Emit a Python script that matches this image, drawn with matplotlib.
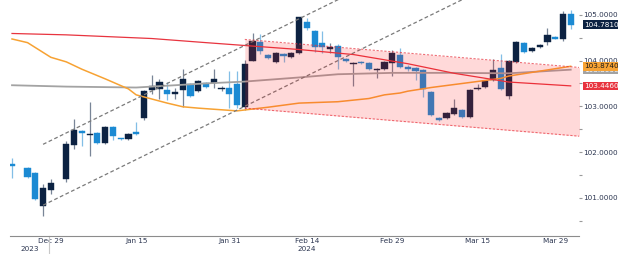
import numpy as np
import matplotlib.pyplot as plt
import matplotlib.transforms as mtransforms

# Candles (daily)
dates = ['2023-12-22', '2023-12-26', '2023-12-27', '2023-12-28', '2023-12-29',
         '2024-01-02', '2024-01-03', '2024-01-04', '2024-01-05', '2024-01-08',
         '2024-01-09', '2024-01-10', '2024-01-11', '2024-01-12', '2024-01-15',
         '2024-01-16', '2024-01-17', '2024-01-18', '2024-01-19', '2024-01-22',
         '2024-01-23', '2024-01-24', '2024-01-25', '2024-01-26', '2024-01-29',
         '2024-01-30', '2024-01-31', '2024-02-01', '2024-02-02', '2024-02-05',
         '2024-02-06', '2024-02-07', '2024-02-08', '2024-02-09', '2024-02-12',
         '2024-02-13', '2024-02-14', '2024-02-15', '2024-02-16', '2024-02-19',
         '2024-02-20', '2024-02-21', '2024-02-22', '2024-02-23', '2024-02-26',
         '2024-02-27', '2024-02-28', '2024-02-29', '2024-03-01', '2024-03-04',
         '2024-03-05', '2024-03-06', '2024-03-07', '2024-03-08', '2024-03-11',
         '2024-03-12', '2024-03-13', '2024-03-14', '2024-03-15', '2024-03-18',
         '2024-03-19', '2024-03-20', '2024-03-21', '2024-03-22', '2024-03-25',
         '2024-03-26', '2024-03-27', '2024-03-28', '2024-03-29', '2024-04-01',
         '2024-04-02']
opens = [101.73, 101.66, 101.54, 100.83, 101.17,
         101.41, 102.15, 102.46, 102.38, 102.41,
         102.19, 102.54, 102.30, 102.29, 102.43,
         102.74, 103.36, 103.37, 103.36, 103.27,
         103.35, 103.48, 103.34, 103.50, 103.50,
         103.37, 103.41, 103.49, 102.99, 104.00,
         104.41, 104.12, 103.97, 104.15, 104.07,
         104.17, 104.83, 104.65, 104.38, 104.26,
         104.32, 104.03, 103.93, 103.96, 103.94,
         103.80, 103.81, 103.94, 104.11, 103.86,
         103.83, 103.79, 103.31, 102.74, 102.74,
         102.83, 102.92, 102.76, 103.38, 103.43,
         103.57, 103.83, 103.22, 103.96, 104.39,
         104.21, 104.29, 104.41, 104.52, 104.46,
         105.01]
highs = [101.88, 101.68, 101.56, 101.30, 101.41,
         102.24, 102.72, 102.48, 103.10, 102.43,
         102.57, 102.56, 102.31, 102.42, 102.66,
         103.36, 103.68, 103.60, 103.53, 103.40,
         103.81, 103.50, 103.58, 103.52, 103.81,
         103.45, 103.76, 103.78, 104.01, 104.59,
         104.57, 104.14, 104.18, 104.17, 104.19,
         104.96, 104.92, 104.67, 104.65, 104.38,
         104.35, 104.05, 103.97, 103.98, 103.96,
         103.84, 103.99, 104.22, 104.28, 103.90,
         103.85, 103.81, 103.33, 102.76, 102.87,
         103.16, 102.94, 103.38, 103.49, 103.58,
         104.03, 104.14, 104.01, 104.43, 104.41,
         104.30, 104.36, 104.70, 104.54, 105.07,
         105.10]
lows = [101.44, 101.43, 100.96, 100.61, 101.08,
        101.34, 102.07, 102.14, 101.92, 102.17,
        102.17, 102.26, 102.26, 102.27, 102.37,
        102.70, 103.27, 103.17, 103.14, 103.17,
        102.99, 103.21, 103.32, 103.40, 103.41,
        103.33, 102.96, 102.96, 102.92, 103.98,
        104.14, 104.04, 103.95, 103.96, 104.05,
        104.15, 104.67, 104.19, 104.17, 104.16,
        103.81, 103.97, 103.44, 103.92, 103.79,
        103.61, 103.79, 103.66, 103.83, 103.76,
        103.57, 103.21, 102.79, 102.68, 102.72,
        102.81, 102.75, 102.74, 103.36, 103.41,
        103.55, 103.35, 103.15, 103.94, 104.16,
        104.19, 104.27, 104.34, 104.46, 104.43,
        104.68]
closes = [101.70, 101.45, 100.98, 101.22, 101.33,
          102.18, 102.48, 102.41, 102.40, 102.19,
          102.55, 102.35, 102.28, 102.40, 102.39,
          103.34, 103.44, 103.52, 103.26, 103.31,
          103.60, 103.23, 103.56, 103.42, 103.60,
          103.39, 103.26, 103.03, 103.92, 104.43,
          104.21, 104.06, 104.16, 104.10, 104.17,
          104.94, 104.72, 104.29, 104.29, 104.28,
          104.08, 103.99, 103.95, 103.94, 103.81,
          103.82, 103.97, 104.16, 103.85, 103.81,
          103.78, 103.37, 102.81, 102.70, 102.85,
          102.96, 102.77, 103.36, 103.41, 103.56,
          103.79, 103.37, 103.99, 104.41, 104.19,
          104.28, 104.34, 104.56, 104.48, 105.01,
          104.781]

# Moving averages
red_dates = ['2023-12-22', '2024-01-02', '2024-01-17', '2024-01-26', '2024-02-13',
             '2024-02-22', '2024-03-04', '2024-03-12', '2024-03-21', '2024-04-02']
red_vals = [104.59, 104.56, 104.48, 104.39, 104.24, 104.13, 103.93, 103.72, 103.53, 103.446]

orange_dates = ['2023-12-22', '2023-12-26', '2023-12-29', '2024-01-02', '2024-01-04',
                '2024-01-09', '2024-01-12', '2024-01-15', '2024-01-17', '2024-01-19',
                '2024-01-23', '2024-01-25', '2024-02-01', '2024-02-07', '2024-02-13',
                '2024-02-20', '2024-02-26', '2024-02-28', '2024-03-01', '2024-03-04',
                '2024-03-07', '2024-03-14', '2024-03-20', '2024-03-21', '2024-04-02']
orange_vals = [104.47, 104.39, 104.07, 103.97, 103.81,
               103.60, 103.38, 103.25, 103.16, 103.07,
               102.99, 102.96, 102.90, 102.98, 103.07,
               103.10, 103.17, 103.25, 103.29, 103.33,
               103.41, 103.52, 103.61, 103.66, 103.874]

gray_dates = ['2023-12-22', '2024-01-02', '2024-01-15', '2024-01-26', '2024-02-02',
              '2024-02-13', '2024-02-20', '2024-02-29', '2024-03-12', '2024-03-21',
              '2024-04-02']
gray_vals = [103.46, 103.43, 103.41, 103.50, 103.54,
             103.63, 103.70, 103.73, 103.73, 103.72, 103.80]

# Trend lines / channel
up_lower_dates = ['2023-12-28', '2024-03-14']
up_lower_vals = [100.84, 105.41]
up_upper_dates = ['2023-12-28', '2024-02-21']
up_upper_vals = [102.17, 105.41]
chan_dates = ['2024-02-02', '2024-04-04']
chan_top = [104.46, 103.835]
chan_bottom = [102.96, 102.335]

tick_dates = ['2023-12-29', '2024-01-15', '2024-01-31', '2024-02-14',
              '2024-02-29', '2024-03-15', '2024-03-29']
tick_labels = ['Dec 29', 'Jan 15', 'Jan 31', 'Feb 14', 'Feb 29', 'Mar 15', 'Mar 29']

START = '2023-12-22'


def pos(d):
    # weekday index (holidays keep their slot)
    return np.busday_count(START, d)


NAVY = '#0c2242'
BLUE = '#1b8ad3'
RED = '#e8343f'
ORANGE = '#f7a233'
GRAY = '#a3a3a3'
TXT = '#2b3550'

plt.rcParams['font.family'] = ['DejaVu Sans']
fig = plt.figure(figsize=(6.18, 2.54), dpi=100)
ax = fig.add_axes([10 / 618, 18.4 / 254, 569 / 618, 235.6 / 254])

x = pos(dates)
o = np.array(opens)
h = np.array(highs)
l = np.array(lows)
c = np.array(closes)
up = c >= o
cols = np.where(up, NAVY, BLUE)
bottoms = np.minimum(o, c)
heights = np.maximum(np.abs(c - o), 0.025)

ax.vlines(x, l, h, colors=cols, linewidth=0.9, alpha=0.55, zorder=2)
ax.bar(x, heights, bottom=bottoms, width=0.8, color=cols, edgecolor=cols,
       linewidth=0.3, zorder=3)

# moving averages
ax.plot(pos(gray_dates), gray_vals, color=GRAY, lw=1.3, zorder=4)
ax.plot(pos(orange_dates), orange_vals, color=ORANGE, lw=1.1, zorder=4)
ax.plot(pos(red_dates), red_vals, color=RED, lw=0.9, zorder=4)

# rising trend lines
ax.plot(pos(up_lower_dates), up_lower_vals, color='#7a7a7a', lw=0.9,
        dashes=(3, 2), zorder=5)
ax.plot(pos(up_upper_dates), up_upper_vals, color='#7a7a7a', lw=0.9,
        dashes=(3, 2), zorder=5)

# falling channel, drawn over the candles
cx = pos(chan_dates)
ax.fill_between(cx, chan_bottom, chan_top, color='#ff1f1f', alpha=0.17,
                linewidth=0, zorder=6)
ax.plot(cx, chan_top, color=RED, lw=0.8, dashes=(2, 1.5), alpha=0.7, zorder=6)
ax.plot(cx, chan_bottom, color=RED, lw=0.8, dashes=(2, 1.5), alpha=0.7, zorder=6)

ax.set_xlim(-0.26, 73.07)
ax.set_ylim(100.177, 105.321)

# axes styling
for s in ['top', 'left', 'right']:
    ax.spines[s].set_visible(False)
ax.spines['bottom'].set_color('#8c8c8c')
ax.spines['bottom'].set_linewidth(0.8)

ax.yaxis.tick_right()
ax.set_yticks([101, 102, 103, 104, 105])
ax.set_yticks([100.5, 101.5, 102.5, 103.5, 104.5], minor=True)
ax.yaxis.set_major_formatter(plt.FormatStrFormatter('%.4f'))
ax.tick_params(axis='y', which='both', length=2, width=0.8, color='#9a9a9a',
               pad=1, labelsize=5.2, labelcolor=TXT)

ax.set_xticks(pos(tick_dates))
ax.set_xticklabels(tick_labels)
ax.tick_params(axis='x', length=0, pad=1.5, labelsize=5.2, labelcolor=TXT)

trans_x = mtransforms.blended_transform_factory(ax.transData, ax.transAxes)
ax.text(2.3, -0.058, '2023', transform=trans_x, ha='center', va='center',
        fontsize=5.2, color=TXT)
ax.text(pos('2024-02-14'), -0.058, '2024', transform=trans_x, ha='center',
        va='center', fontsize=5.2, color=TXT)
ax.plot([4.8, 4.8], [0, -0.08], transform=trans_x, color='#c8c8c8', lw=0.8,
        clip_on=False)

# last-value tags on the right
trans_y = mtransforms.blended_transform_factory(ax.transAxes, ax.transData)
tags = [(gray_vals[-1], GRAY, 'white'),
        (orange_vals[-1], ORANGE, '#1a1a1a'),
        (red_vals[-1], RED, 'white'),
        (closes[-1], NAVY, 'white')]
for val, bg, fg in tags:
    ax.text(1.009, val, '%.4f' % val, transform=trans_y, ha='left', va='center',
            fontsize=5.2, color=fg, clip_on=False, zorder=10,
            bbox=dict(boxstyle='square,pad=0.18', fc=bg, ec='none'))

fig.savefig('out.png', dpi=100)
